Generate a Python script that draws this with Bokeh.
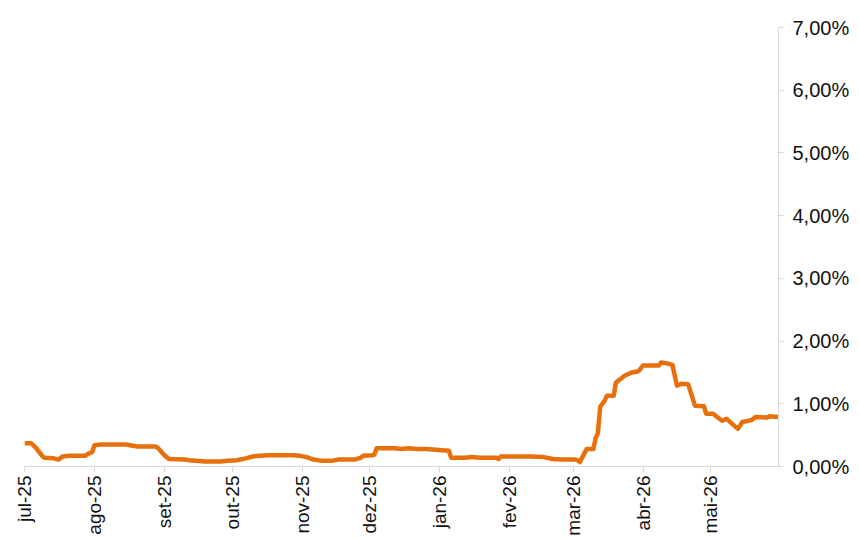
from datetime import datetime
from bokeh.plotting import figure
from bokeh.models import ColumnDataSource, LinearAxis, FixedTicker, Range1d
from bokeh.embed import file_html
from bokeh.resources import INLINE
import math

dates = [
    "2025-07-01", "2025-07-04", "2025-07-06", "2025-07-09", "2025-07-10", "2025-07-14",
    "2025-07-16", "2025-07-18", "2025-07-21", "2025-07-28", "2025-07-29", "2025-07-31",
    "2025-08-01", "2025-08-04", "2025-08-15", "2025-08-18", "2025-08-20", "2025-08-28",
    "2025-08-29", "2025-09-01", "2025-09-03", "2025-09-10", "2025-09-12", "2025-09-15",
    "2025-09-19", "2025-09-26", "2025-09-29", "2025-10-03", "2025-10-07", "2025-10-10",
    "2025-10-13", "2025-10-17", "2025-10-28", "2025-10-31", "2025-11-03", "2025-11-06",
    "2025-11-10", "2025-11-14", "2025-11-17", "2025-11-24", "2025-11-27", "2025-11-28",
    "2025-12-02", "2025-12-03", "2025-12-04", "2025-12-12", "2025-12-15", "2025-12-18",
    "2025-12-22", "2025-12-26", "2026-01-02", "2026-01-05", "2026-01-06", "2026-01-12",
    "2026-01-15", "2026-01-19", "2026-01-26", "2026-01-27", "2026-01-28", "2026-02-10",
    "2026-02-16", "2026-02-20", "2026-02-24", "2026-03-02", "2026-03-03", "2026-03-04",
    "2026-03-07", "2026-03-10", "2026-03-11", "2026-03-12", "2026-03-13", "2026-03-15",
    "2026-03-16", "2026-03-19", "2026-03-20", "2026-03-24", "2026-03-27", "2026-03-30",
    "2026-04-01", "2026-04-08", "2026-04-09", "2026-04-12", "2026-04-14", "2026-04-16",
    "2026-04-18", "2026-04-21", "2026-04-24", "2026-04-28", "2026-04-29", "2026-05-02",
    "2026-05-06", "2026-05-08", "2026-05-13", "2026-05-15", "2026-05-19", "2026-05-21",
    "2026-05-26", "2026-05-27", "2026-05-31",
]
values = [
    0.37, 0.37, 0.30, 0.16, 0.14, 0.13,
    0.11, 0.16, 0.17, 0.17, 0.20, 0.23,
    0.34, 0.35, 0.35, 0.33, 0.32, 0.32,
    0.30, 0.18, 0.12, 0.11, 0.10, 0.09,
    0.08, 0.08, 0.09, 0.10, 0.13, 0.16,
    0.17, 0.18, 0.18, 0.17, 0.15, 0.11,
    0.09, 0.09, 0.11, 0.11, 0.14, 0.17,
    0.18, 0.19, 0.29, 0.29, 0.28, 0.29,
    0.28, 0.28, 0.26, 0.25, 0.14, 0.14,
    0.15, 0.14, 0.14, 0.12, 0.16, 0.16,
    0.15, 0.12, 0.11, 0.11, 0.10, 0.07,
    0.28, 0.28, 0.45, 0.53, 0.95, 1.05,
    1.13, 1.13, 1.34, 1.45, 1.50, 1.52,
    1.61, 1.61, 1.66, 1.64, 1.62, 1.29,
    1.32, 1.31, 0.97, 0.96, 0.84, 0.84,
    0.73, 0.76, 0.60, 0.71, 0.74, 0.79,
    0.78, 0.80, 0.79,
]
month_ticks = ["2025-07-01", "2025-08-01", "2025-09-01", "2025-10-01", "2025-11-01", "2025-12-01",
               "2026-01-01", "2026-02-01", "2026-03-01", "2026-04-01", "2026-05-01"]
month_labels = ["jul-25", "ago-25", "set-25", "out-25", "nov-25", "dez-25",
                "jan-26", "fev-26", "mar-26", "abr-26", "mai-26"]
y_ticks = [0, 1, 2, 3, 4, 5, 6, 7]
y_labels = ["0,00%", "1,00%", "2,00%", "3,00%", "4,00%", "5,00%", "6,00%", "7,00%"]

def ts(s):
    return datetime.strptime(s, "%Y-%m-%d").timestamp() * 1000.0

src = ColumnDataSource(dict(x=[datetime.strptime(d, "%Y-%m-%d") for d in dates], y=values))

p = figure(frame_width=754, frame_height=439, x_axis_type=None, y_axis_location=None,
           output_backend="svg", toolbar_location=None,
           min_border_left=24, min_border_top=27, min_border_right=10, min_border_bottom=5,
           x_range=Range1d(ts("2025-07-01"), ts("2026-05-31")), y_range=Range1d(0, 7))
p.outline_line_color = None
p.xgrid.visible = False
p.ygrid.visible = False
p.background_fill_color = "white"

p.line("x", "y", source=src, line_color="#E8700C", line_width=4.5, line_join="round")

tick_ms = [ts(t) for t in month_ticks]
xaxis = LinearAxis(ticker=FixedTicker(ticks=tick_ms))
xaxis.major_label_overrides = {t: l for t, l in zip(tick_ms, month_labels)}
xaxis.major_label_orientation = math.pi / 2
xaxis.axis_line_color = "#D9D9D9"
xaxis.major_tick_line_color = "#D9D9D9"
xaxis.major_tick_out = 6
xaxis.major_tick_in = 0
xaxis.minor_tick_line_color = None
xaxis.major_label_text_font = "Liberation Sans"
xaxis.major_label_text_font_size = "19px"
xaxis.major_label_text_color = "#111111"
xaxis.major_label_standoff = 3
p.add_layout(xaxis, "below")

yaxis = LinearAxis(ticker=FixedTicker(ticks=y_ticks))
yaxis.major_label_overrides = {t: l for t, l in zip(y_ticks, y_labels)}
yaxis.axis_line_color = "#D9D9D9"
yaxis.major_tick_line_color = "#D9D9D9"
yaxis.major_tick_out = 5
yaxis.major_tick_in = 0
yaxis.minor_tick_line_color = None
yaxis.major_label_text_font = "Liberation Sans"
yaxis.major_label_text_font_size = "20px"
yaxis.major_label_text_color = "#111111"
yaxis.major_label_standoff = 9
p.add_layout(yaxis, "right")

open("out.html", "w").write(file_html(p, INLINE))
